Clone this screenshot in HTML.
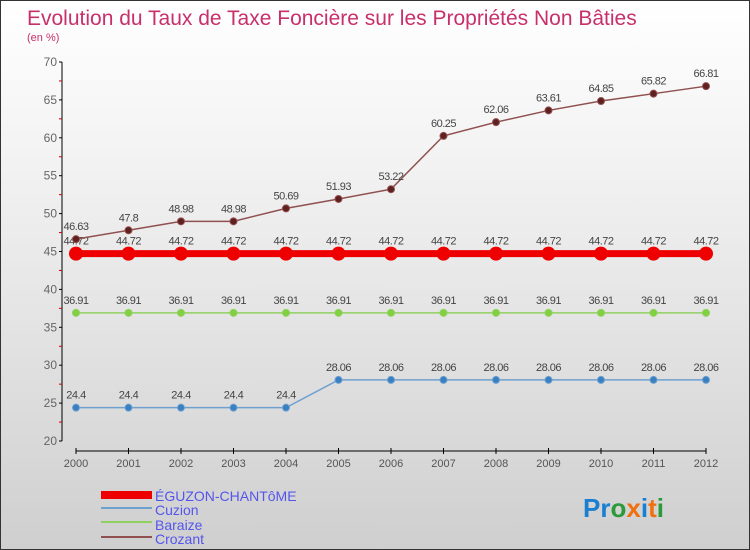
<!DOCTYPE html>
<html><head><meta charset="utf-8"><style>
body{margin:0;}
#c{width:748px;height:548px;border:1px solid #333;background:linear-gradient(#ffffff,#f2f2f2 30%,#cfcfcf);position:relative;font-family:"Liberation Sans",sans-serif;overflow:hidden}
svg text{font-family:"Liberation Sans",sans-serif}
</style></head><body>
<div id="c">
<svg width="748" height="548" id="svg">
<text x="26" y="24" font-size="21" fill="#c8306a">Evolution du Taux de Taxe Foncière sur les Propriétés Non Bâties</text>
<text x="26" y="40" font-size="11" fill="#c8306a">(en %)</text>
<g id="axes"></g><g id="series"></g>
<g>
<rect x="100" y="490" width="51" height="8" fill="#e00"/>
<text x="154" y="500" font-size="14" fill="#5555ee">ÉGUZON-CHANTôME</text>
<rect x="100" y="506" width="51" height="2" fill="#6ea0d0"/>
<text x="154" y="514" font-size="14" fill="#5555ee">Cuzion</text>
<rect x="100" y="520" width="51" height="2" fill="#90d060"/>
<text x="154" y="529" font-size="14" fill="#5555ee">Baraize</text>
<rect x="100" y="535" width="51" height="2" fill="#905050"/>
<text x="154" y="543" font-size="14" fill="#5555ee">Crozant</text>
</g>
<text x="582" y="516" font-size="26" font-weight="bold"><tspan fill="#1a7fd0">Pr</tspan><tspan fill="#2a9a3a">o</tspan><tspan fill="#f07010">x</tspan><tspan fill="#1a7fd0">i</tspan><tspan fill="#f07010">t</tspan><tspan fill="#2a9a3a">i</tspan></text>
</svg></div>
<script>
const years=[2000,2001,2002,2003,2004,2005,2006,2007,2008,2009,2010,2011,2012];
const yTicks=[20,25,30,35,40,45,50,55,60,65,70];
const eguzon=[44.72,44.72,44.72,44.72,44.72,44.72,44.72,44.72,44.72,44.72,44.72,44.72,44.72];
const cuzion=[24.4,24.4,24.4,24.4,24.4,28.06,28.06,28.06,28.06,28.06,28.06,28.06,28.06];
const baraize=[36.91,36.91,36.91,36.91,36.91,36.91,36.91,36.91,36.91,36.91,36.91,36.91,36.91];
const crozant=[46.63,47.8,48.98,48.98,50.69,51.93,53.22,60.25,62.06,63.61,64.85,65.82,66.81];
const NS="http://www.w3.org/2000/svg";
function X(i){return 75+i*(705-75)/(years.length-1);}
function Y(v){return 440-(v-20)*(440-61)/50;}
function mk(t,a,p){const e=document.createElementNS(NS,t);for(const k in a)e.setAttribute(k,a[k]);p.appendChild(e);return e;}
const ax=document.getElementById('axes');
const yl=mk('line',{x1:61,y1:61,x2:61,y2:440,stroke:'#000'},ax);


yTicks.forEach(v=>{
 mk('line',{x1:58,x2:61,y1:Y(v),y2:Y(v),stroke:'#000'},ax);
 if(v<70) mk('line',{x1:58,x2:61,y1:Y(v+2.5),y2:Y(v+2.5),stroke:'#c00'},ax);
 const t=mk('text',{x:56,y:Y(v)+4,'font-size':12,fill:'#666','text-anchor':'end'},ax);t.textContent=v;
 
 
});
const xl=mk('line',{x1:75,y1:450,x2:705,y2:450,stroke:'#000'},ax);


years.forEach((y,i)=>{
 mk('line',{x1:X(i),x2:X(i),y1:447,y2:453,stroke:'#000'},ax);
 const t=mk('text',{x:X(i),y:466,'font-size':11,fill:'#555','text-anchor':'middle'},ax);t.textContent=y;
 
 
});
const sg=document.getElementById('series');
function draw(name,vals,col,fill,w,r){
 const g=mk('g',{},sg);
 
 
 const pl=mk('polyline',{points:vals.map((v,i)=>X(i)+','+Y(v)).join(' '),fill:'none',stroke:col,'stroke-width':w},g);
 
 
 vals.forEach((v,i)=>{
  const c=mk('circle',{cx:X(i),cy:Y(v),r:r,fill:fill,stroke:col,'stroke-width':1},g);
  
  
  const t=mk('text',{x:X(i),y:Y(v)-9,'font-size':11,fill:'#444','text-anchor':'middle','letter-spacing':'-0.5'},g);t.textContent=v;
  
  
 });
}
draw('cuzion',cuzion,'#6ea0d0','#3a80c0',1.5,3.5);
draw('baraize',baraize,'#90d060','#80d040',1.5,3.5);
draw('eguzon',eguzon,'#ee0000','#ee0000',7,6.5);
draw('crozant',crozant,'#905050','#602020',1.5,3.5);
</script>
</body></html>
